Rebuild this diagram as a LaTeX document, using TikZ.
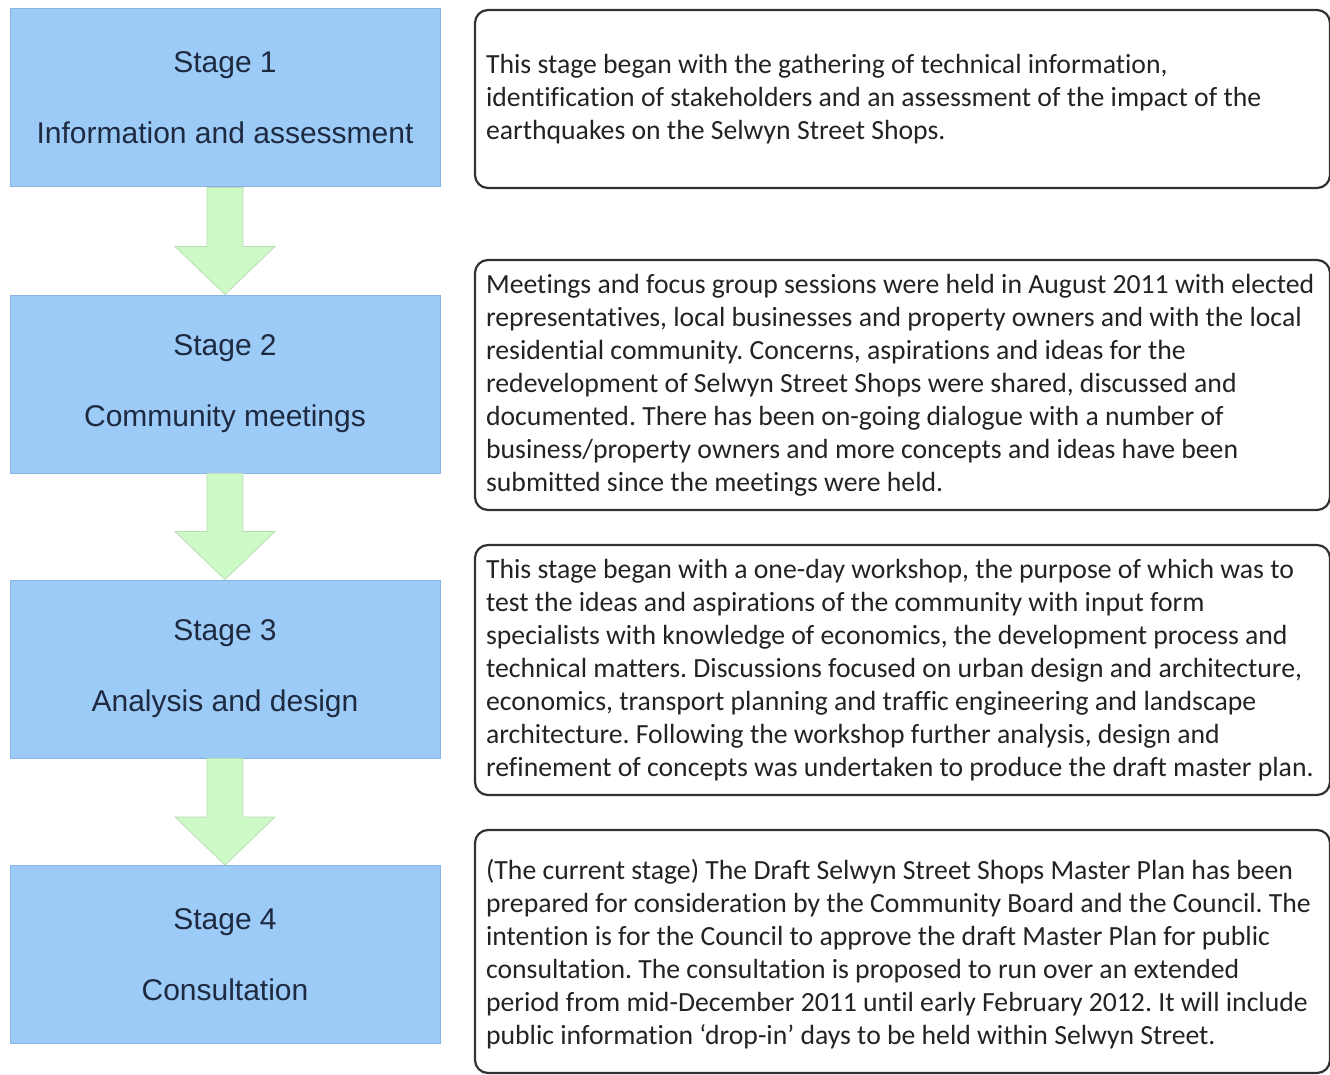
\documentclass[tikz,border=0pt]{standalone}
\usepackage{fontspec}
\setmainfont[Ligatures={NoCommon}]{Carlito}
\newfontfamily\stagefont{Liberation Sans}
\usetikzlibrary{calc}
\definecolor{stageblue}{RGB}{157,203,248}
\definecolor{stageedge}{RGB}{135,180,228}
\definecolor{arrowgreen}{RGB}{206,250,200}
\definecolor{arrowedge}{RGB}{185,220,180}
\definecolor{stagetext}{RGB}{30,42,64}
\definecolor{desctext}{RGB}{35,35,35}
\definecolor{descedge}{RGB}{50,50,50}
\tikzset{
  stagebox/.style={draw=stageedge, line width=1pt, fill=stageblue, minimum width=430pt, minimum height=178pt, inner sep=0pt, align=center, text=stagetext, font=\stagefont\fontsize{30}{71}\selectfont},
  descbox/.style={draw=descedge, line width=2.2pt, rounded corners=13pt, fill=white, minimum width=855pt, inner sep=0pt},
  desctxt/.style={anchor=west, align=left, inner sep=0pt, text=desctext, font=\fontsize{27.7}{33}\selectfont\frenchspacing},
  flowarrow/.style={draw=arrowedge, line width=0.8pt, fill=arrowgreen}
}
\begin{document}
\begin{tikzpicture}[x=1pt,y=-1pt]
\useasboundingbox (0,0) rectangle (1330,1075);
% left stage boxes
\node[stagebox] (s1) at (225,98) {Stage 1\\Information and assessment};
\node[stagebox] (s2) at (225,384) {Stage 2\\Community meetings};
\node[stagebox] (s3) at (225,669) {Stage 3\\Analysis and design};
\node[stagebox] (s4) at (225,954.5) {Stage 4\\Consultation};
% arrows
\foreach \a/\b in {s1/s2, s2/s3, s3/s4}{
  \draw[flowarrow] ($(\a.south)+(-18,0)$) -- ($(\a.south)+(18,0)$) -- ($(\b.north)+(18,-48)$) -- ($(\b.north)+(50,-48)$) -- (\b.north) -- ($(\b.north)+(-50,-48)$) -- ($(\b.north)+(-18,-48)$) -- cycle;
}
% description boxes
\node[descbox, minimum height=178pt] (d1) at (902.5,99) {};
\node[descbox, minimum height=250pt] (d2) at (902.5,385) {};
\node[descbox, minimum height=250pt] (d3) at (902.5,670) {};
\node[descbox, minimum height=243pt] (d4) at (902.5,951.5) {};
\node[desctxt] (t1) at ($(d1.west)+(12,0)$) {This stage began with the gathering of technical information,\\identification of stakeholders and an assessment of the impact of the\\earthquakes on the Selwyn Street Shops.};
\node[desctxt] (t2) at ($(d2.west)+(12,0)$) {Meetings and focus group sessions were held in August 2011 with elected\\representatives, local businesses and property owners and with the local\\residential community. Concerns, aspirations and ideas for the\\redevelopment of Selwyn Street Shops were shared, discussed and\\documented. There has been on-going dialogue with a number of\\business/property owners and more concepts and ideas have been\\submitted since the meetings were held.};
\node[desctxt] (t3) at ($(d3.west)+(12,0)$) {This stage began with a one-day workshop, the purpose of which was to\\test the ideas and aspirations of the community with input form\\specialists with knowledge of economics, the development process and\\technical matters. Discussions focused on urban design and architecture,\\economics, transport planning and traffic engineering and landscape\\architecture. Following the workshop further analysis, design and\\refinement of concepts was undertaken to produce the draft master plan.};
\node[desctxt] (t4) at ($(d4.west)+(12,3)$) {(The current stage) The Draft Selwyn Street Shops Master Plan has been\\prepared for consideration by the Community Board and the Council. The\\intention is for the Council to approve the draft Master Plan for public\\consultation. The consultation is proposed to run over an extended\\period from mid-December 2011 until early February 2012. It will include\\public information ‘drop-in’ days to be held within Selwyn Street.};
\end{tikzpicture}
\end{document}
